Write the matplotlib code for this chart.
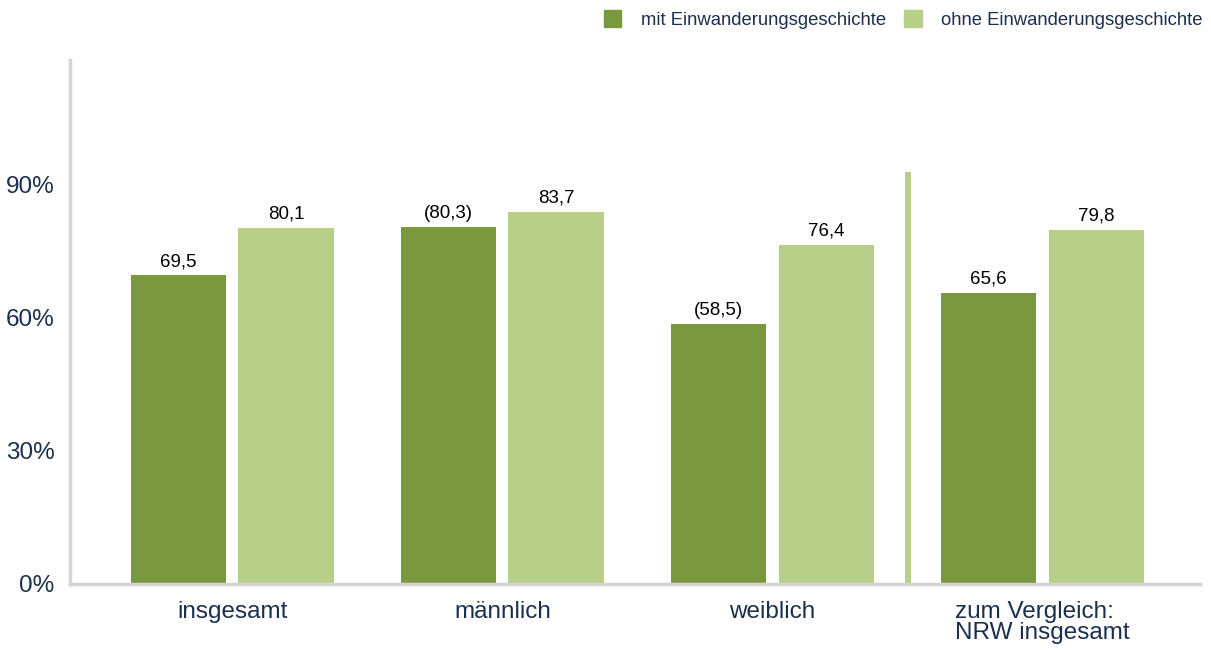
import numpy as np
import matplotlib
matplotlib.use("Agg")
import matplotlib.pyplot as plt
from matplotlib.patches import Patch

plt.rcParams['font.family'] = ['Liberation Sans', 'DejaVu Sans']

categories = ["insgesamt", "männlich", "weiblich", "zum Vergleich:\nNRW insgesamt"]
mit = [69.5, 80.3, 58.5, 65.6]
ohne = [80.1, 83.7, 76.4, 79.8]
mit_labels = ["69,5", "(80,3)", "(58,5)", "65,6"]
ohne_labels = ["80,1", "83,7", "76,4", "79,8"]
series_names = ["mit Einwanderungsgeschichte", "ohne Einwanderungsgeschichte"]
yticks = [0, 30, 60, 90]

dark = "#7a993e"
light = "#b8cf8a"
text_col = "#1b2f4e"
axis_col = "#d4d4d4"

fig = plt.figure(figsize=(12.11, 6.5), dpi=100)
ax = fig.add_axes([70 / 1211, 66 / 650, 1130 / 1211, 524 / 650])

x = np.arange(len(categories))
w = 0.352
b1 = ax.bar(x - 0.2, mit, w, color=dark)
b2 = ax.bar(x + 0.198, ohne, w, color=light)

for bars, labels in ((b1, mit_labels), (b2, ohne_labels)):
    for r, lab in zip(bars, labels):
        ax.text(r.get_x() + r.get_width() / 2, r.get_height() + 1.2, lab,
                ha="center", va="bottom", fontsize=13.5, color="black")

# separator between groups and comparison
ax.plot([2.5, 2.5], [0, 92.7], color=light, lw=4.3, solid_capstyle="butt")

ax.set_xlim(-0.602, 3.583)
ax.set_ylim(0, 118)
ax.set_yticks(yticks)
ax.set_yticklabels([f"{v}%" for v in yticks], fontsize=17.5, color=text_col)
ax.set_xticks(x)
ax.set_xticklabels(categories, fontsize=17.5, color=text_col, va="top",
                   linespacing=0.95, multialignment="left")
ax.tick_params(axis="x", length=0, pad=12)
ax.tick_params(axis="y", length=0, pad=11)

for s in ("top", "right"):
    ax.spines[s].set_visible(False)
for s in ("left", "bottom"):
    ax.spines[s].set_color(axis_col)
    ax.spines[s].set_linewidth(2.5)

handles = [Patch(color=dark), Patch(color=light)]
fig.legend(handles, series_names, loc="upper right", bbox_to_anchor=(1.007, 1.01),
           ncol=2, frameon=False, fontsize=13.3, labelcolor=text_col,
           handlelength=0.95, handleheight=1.05, handletextpad=1.05, columnspacing=1.0)

fig.savefig("out.png", dpi=100, facecolor="white")
